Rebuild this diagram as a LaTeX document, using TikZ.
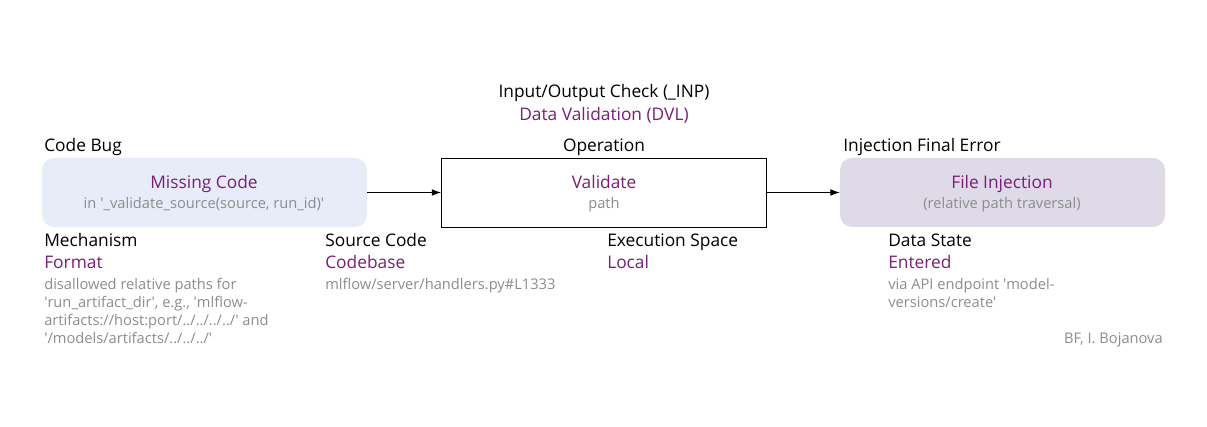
\documentclass[tikz,border=0pt]{standalone}
\usepackage{fontspec}
\setmainfont{Open Sans}
\usetikzlibrary{arrows.meta}
\definecolor{pur}{HTML}{7A1E78}
\definecolor{gry}{HTML}{8C8C8C}
\definecolor{bluebox}{HTML}{E6ECF8}
\definecolor{lavbox}{HTML}{DEDAE8}
\newlength{\pxu}
\setlength{\pxu}{0.75pt}
\newcommand{\sq}{\textquotesingle}
\tikzset{
  box/.style={minimum width=325\pxu, minimum height=69\pxu, inner sep=0pt},
  lbl/.style={font=\fontsize{13}{16}\selectfont, text=black, inner sep=0pt},
  val/.style={font=\fontsize{13}{16}\selectfont, text=pur, inner sep=0pt},
  note/.style={font=\fontsize{11}{13.5}\selectfont, text=gry, inner sep=0pt},
  conn/.style={-{Latex[length=7pt,width=5pt]}, line width=0.6pt},
}
\begin{document}
\begin{tikzpicture}[x=0.75pt,y=-0.75pt]
\useasboundingbox (0,0) rectangle (1207,427);
% boxes
\node[box, fill=bluebox, rounded corners=12\pxu] (bug) at (204.5,192.5) {};
\node[box, fill=white, draw=black, line width=0.6pt] (op) at (604,192.5) {};
\node[box, fill=lavbox, rounded corners=12\pxu] (err) at (1002.5,192.5) {};
\draw[conn] (bug) -- (op);
\draw[conn] (op) -- (err);
% box texts
\node[val, anchor=base] (bugt) at (204,189) {Missing Code};
\node[note, anchor=base] (bugs) at (204,209) {in \sq\_validate\_source(source, run\_id)\sq};
\node[val, anchor=base] (opt) at (604,189) {Validate};
\node[note, anchor=base] (ops) at (604,209) {path};
\node[val, anchor=base] (errt) at (1002,189) {File Injection};
\node[note, anchor=base] (errs) at (1002,209) {(relative path traversal)};
% headers
\node[lbl, anchor=base west] (bugh) at (44,152) {Code Bug};
\node[lbl, anchor=base] (oph) at (604,152) {Operation};
\node[lbl, anchor=base west] (errh) at (843,152) {Injection Final Error};
\node[lbl, anchor=base] (cls) at (604,98) {Input/Output Check (\_INP)};
\node[val, anchor=base] (clsv) at (604,121) {Data Validation (DVL)};
% attributes
\node[lbl, anchor=base west] (mech) at (44,247) {Mechanism};
\node[val, anchor=base west] (mechv) at (44,269) {Format};
\node[note, anchor=north west, align=left] (mechn) at (44,278) {disallowed relative paths for\\\sq run\_artifact\_dir\sq, e.g., \sq mlflow-\\artifacts://host:port/../../../../\sq{} and\\\sq/models/artifacts/../../../\sq};
\node[lbl, anchor=base west] (src) at (325,247) {Source Code};
\node[val, anchor=base west] (srcv) at (325,269) {Codebase};
\node[note, anchor=base west] (srcn) at (325,290) {mlflow/server/handlers.py\#L1333};
\node[lbl, anchor=base west] (exe) at (607,247) {Execution Space};
\node[val, anchor=base west] (exev) at (607,269) {Local};
\node[lbl, anchor=base west] (ds) at (888,247) {Data State};
\node[val, anchor=base west] (dsv) at (888,269) {Entered};
\node[note, anchor=north west, align=left] (dsn) at (888,278) {via API endpoint \sq model-\\versions/create\sq};
\node[note, anchor=base east] (auth) at (1163,344) {BF, I. Bojanova};
\end{tikzpicture}
\end{document}
